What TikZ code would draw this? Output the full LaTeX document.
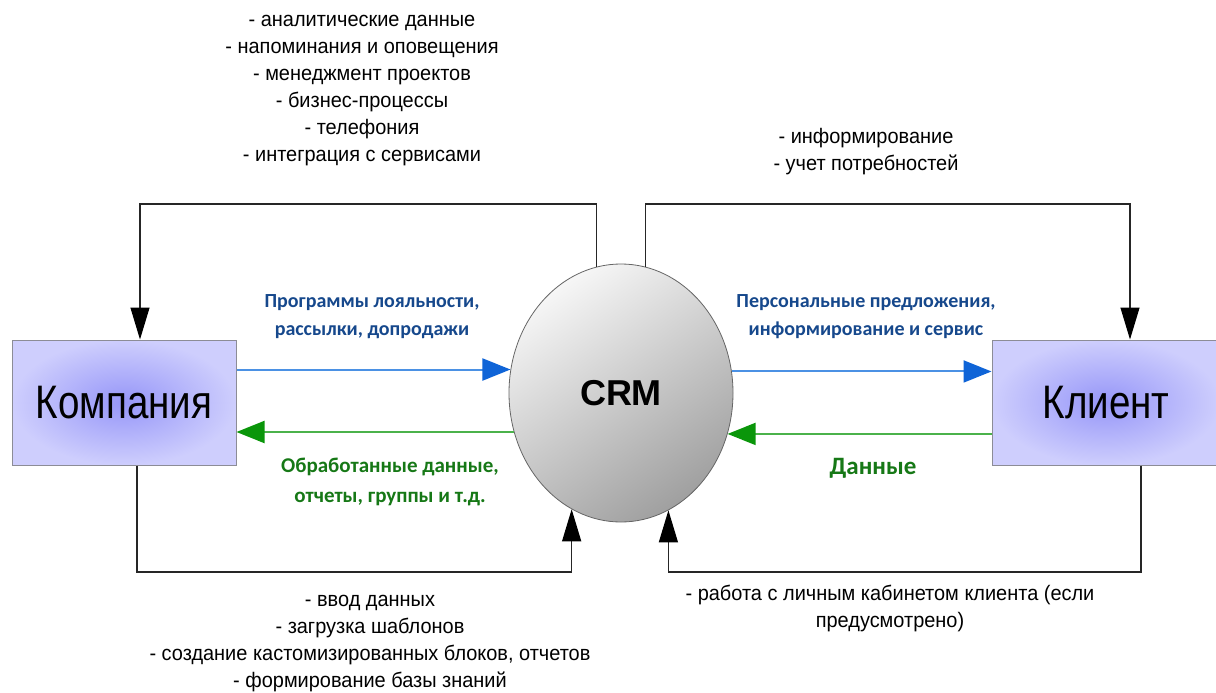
\documentclass[tikz,border=0pt]{standalone}
\usepackage{fontspec}
\setmainfont{Liberation Sans}
\newfontfamily\narrowfont[FakeStretch=0.95]{Liberation Sans}
\newfontfamily\bignarrow[FakeStretch=0.82]{Liberation Sans}
\newfontfamily\labfont{Carlito}
\usetikzlibrary{shapes.geometric,arrows.meta}
\definecolor{boxin}{RGB}{150,150,248}
\definecolor{boxout}{RGB}{206,206,253}
\definecolor{boxline}{RGB}{140,140,150}
\definecolor{bluetxt}{RGB}{22,72,140}
\definecolor{greentxt}{RGB}{22,120,22}
\definecolor{blueline}{RGB}{75,145,228}
\definecolor{bluehead}{RGB}{15,100,215}
\definecolor{greenline}{RGB}{75,178,75}
\definecolor{greenhead}{RGB}{10,150,10}
\definecolor{crmlight}{RGB}{246,246,246}
\definecolor{crmdark}{RGB}{160,160,160}
\tikzset{
  entity/.style={draw=boxline, line width=1pt, inner color=boxin, outer color=boxout,
    minimum height=125pt, inner sep=0pt,
    font=\bignarrow\fontsize{47}{52}\selectfont},
  crmnode/.style={ellipse, draw=gray!80!black, line width=0.8pt,
    top color=crmlight, bottom color=crmdark, shading angle=35,
    minimum width=224pt, minimum height=258pt, inner sep=0pt,
    font=\bfseries\fontsize{36}{40}\selectfont},
  note/.style={inner sep=0pt, align=center, font=\narrowfont\fontsize{21}{27}\selectfont},
  bluelab/.style={inner sep=0pt, align=center, text=bluetxt, font=\labfont\bfseries\fontsize{20}{28}\selectfont},
  greenlab/.style={inner sep=0pt, align=center, text=greentxt, font=\labfont\bfseries\fontsize{21}{30}\selectfont},
  conn/.style={draw=black!85, line width=1.2pt, -{Triangle[length=32pt,width=19pt,color=black]}},
  blueconn/.style={draw=blueline, line width=2pt, -{Triangle[length=28pt,width=22pt,color=bluehead]}},
  greenconn/.style={draw=greenline, line width=2pt, -{Triangle[length=28pt,width=22pt,color=greenhead]}}
}
\begin{document}
\begin{tikzpicture}[x=1pt,y=-1pt]
\useasboundingbox[fill=white] (0,0) rectangle (1216,693);

\node[entity, minimum width=224pt] (comp) at (124,402.5) {Компания};
\node[entity, minimum width=228pt] (client) at (1106,402.5) {Клиент};
\node[crmnode] (crm) at (621,393) {CRM};

% horizontal flows
\draw[blueconn] (comp.east |- crm.168.7) -- (crm.168.7);
\draw[greenconn] (crm.200.6) -- (comp.east |- crm.200.6);
\draw[blueconn] (crm.11.3) -- (client.west |- crm.11.3);
\draw[greenconn] (client.west |- crm.339.4) -- (crm.339.4);

% loop connectors
\coordinate (tl) at (140,204);
\coordinate (tr) at (1130,204);
\coordinate (bl) at (137,572);
\coordinate (br) at (1141,572);
\draw[conn] (crm.101.7) |- (tl) -- (comp.north -| tl);
\draw[conn] (crm.79.2) |- (tr) -- (client.north -| tr);
\draw[conn] (comp.south -| bl) -- (bl) -| (crm.247.6);
\draw[conn] (client.south -| br) -- (br) -| (crm.292.4);

% texts
\node[note] (ntop) at (362,90.5) {- аналитические данные\\- напоминания и оповещения\\- менеджмент проектов\\- бизнес-процессы\\- телефония\\- интеграция с сервисами};
\node[note] (ntr) at (866,151.5) {- информирование\\- учет потребностей};
\node[note] (nbl) at (370,644) {- ввод данных\\- загрузка шаблонов\\- создание кастомизированных блоков, отчетов\\- формирование базы знаний};
\node[note] (nbr) at (890,608) {- работа с личным кабинетом клиента (если\\предусмотрено)};

\node[bluelab] (lb1) at (372,317) {Программы лояльности,\\рассылки, допродажи};
\node[bluelab] (lb2) at (866,317) {Персональные предложения,\\информирование и сервис};
\node[greenlab] (lg1) at (390,482) {Обработанные данные,\\отчеты, группы и т.д.};
\node[greenlab, font=\labfont\bfseries\fontsize{25}{30}\selectfont] (lg2) at (873,468) {Данные};
\end{tikzpicture}
\end{document}
